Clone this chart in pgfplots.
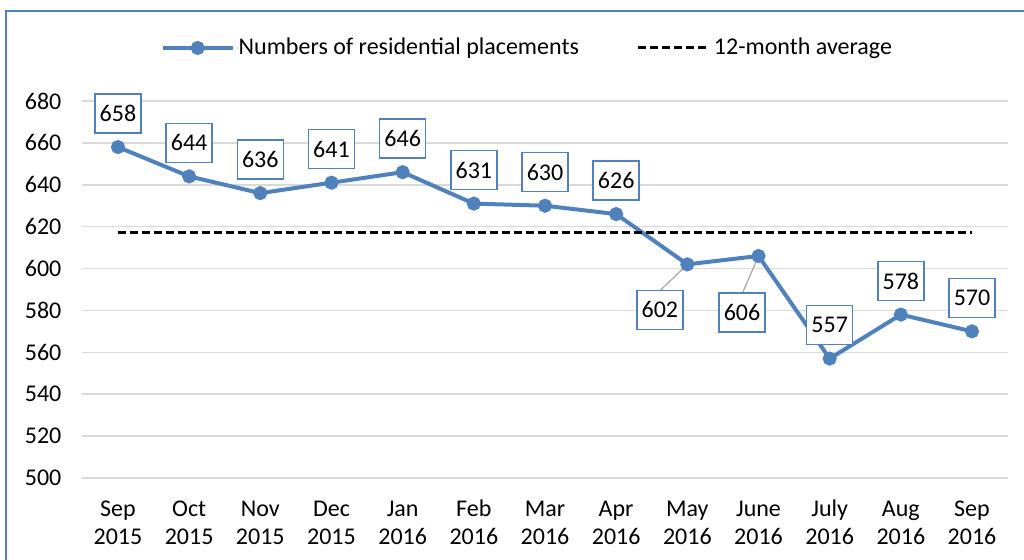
\documentclass[border=0pt]{standalone}
\usepackage{pgfplots}
\pgfplotsset{compat=1.18}
\usepackage{fontspec}
\setmainfont{Carlito}
\definecolor{serblue}{HTML}{4F81BD}
\definecolor{gridgray}{HTML}{D9D9D9}
\definecolor{leader}{HTML}{A6A6A6}
\tikzset{labelbox/.style={draw=serblue, line width=0.75pt, fill=white, text=black,
  font=\fontsize{12}{14}\selectfont, inner xsep=2.4pt, inner ysep=0pt,
  minimum height=19.5pt, anchor=center}}
\begin{document}
\begin{tikzpicture}
\useasboundingbox (0,0) rectangle (512pt,280pt);
\draw[serblue, line width=1pt] (3pt,0) -- (3pt,274.5pt) -- (512pt,274.5pt);
\begin{axis}[
  at={(41.2pt,41pt)}, anchor=south west,
  scale only axis, width=462.6pt, height=188.5pt,
  xmin=-0.5, xmax=12.5, ymin=500, ymax=680,
  ytick={500,520,540,560,580,600,620,640,660,680},
  xtick={0,1,2,3,4,5,6,7,8,9,10,11,12},
  xticklabels={{\strut Sep\\2015},{\strut Oct\\2015},{\strut Nov\\2015},{\strut Dec\\2015},{\strut Jan\\2016},{\strut Feb\\2016},{\strut Mar\\2016},{\strut Apr\\2016},{\strut May\\2016},{\strut June\\2016},{\strut July\\2016},{\strut Aug\\2016},{\strut Sep\\2016}},
  xticklabel style={align=center, font=\fontsize{12}{14}\selectfont, anchor=north, yshift=-6pt},
  yticklabel style={font=\fontsize{12}{14}\selectfont, xshift=-7pt},
  axis line style={draw=none},
  major tick style={draw=none},
  ymajorgrids, grid style={gridgray, line width=0.75pt},
  /pgf/number format/assume math mode=true,
  clip=false,
  legend columns=2,
  legend cell align=left,
  legend style={at={(0.482,1)}, anchor=center, yshift=26.5pt, draw=none, fill=none,
    font=\fontsize{12}{14}\selectfont,
    /tikz/every even column/.append style={column sep=27pt}},
  legend image code/.code={\draw[mark repeat=2,mark phase=2] plot coordinates {(0pt,0pt) (17.5pt,0pt) (35pt,0pt)};},
]
\draw[leader, line width=0.6pt] (axis cs:8,602) -- ++(-13.5pt,-13pt);
\draw[leader, line width=0.6pt] (axis cs:9,606) -- ++(-8pt,-18.5pt);
\addplot[serblue, line width=2pt, mark=*, mark size=2.5pt, mark options={fill=serblue, draw=serblue}]
  coordinates {(0,658) (1,644) (2,636) (3,641) (4,646) (5,631) (6,630) (7,626) (8,602) (9,606) (10,557) (11,578) (12,570)};
\addlegendentry{Numbers of residential placements}
\addplot[black, line width=1.5pt, dash pattern=on 4pt off 2pt, mark=none]
  coordinates {(0,617) (1,617) (2,617) (3,617) (4,617) (5,617) (6,617) (7,617) (8,617) (9,617) (10,617) (11,617) (12,617)};
\addlegendentry{12-month average}
\addplot[draw=none, mark=none, forget plot, nodes near coords,
  every node near coord/.style={labelbox, yshift=16.75pt}]
  coordinates {(0,658) (1,644) (2,636) (3,641) (4,646) (5,631) (6,630) (7,626) (10,557) (11,578) (12,570)};
\addplot[draw=none, mark=none, forget plot, nodes near coords,
  every node near coord/.style={labelbox, xshift=-13.75pt, yshift=-22.75pt}]
  coordinates {(8,602)};
\addplot[draw=none, mark=none, forget plot, nodes near coords,
  every node near coord/.style={labelbox, xshift=-8.25pt, yshift=-28.25pt}]
  coordinates {(9,606)};
\end{axis}
\end{tikzpicture}
\end{document}
